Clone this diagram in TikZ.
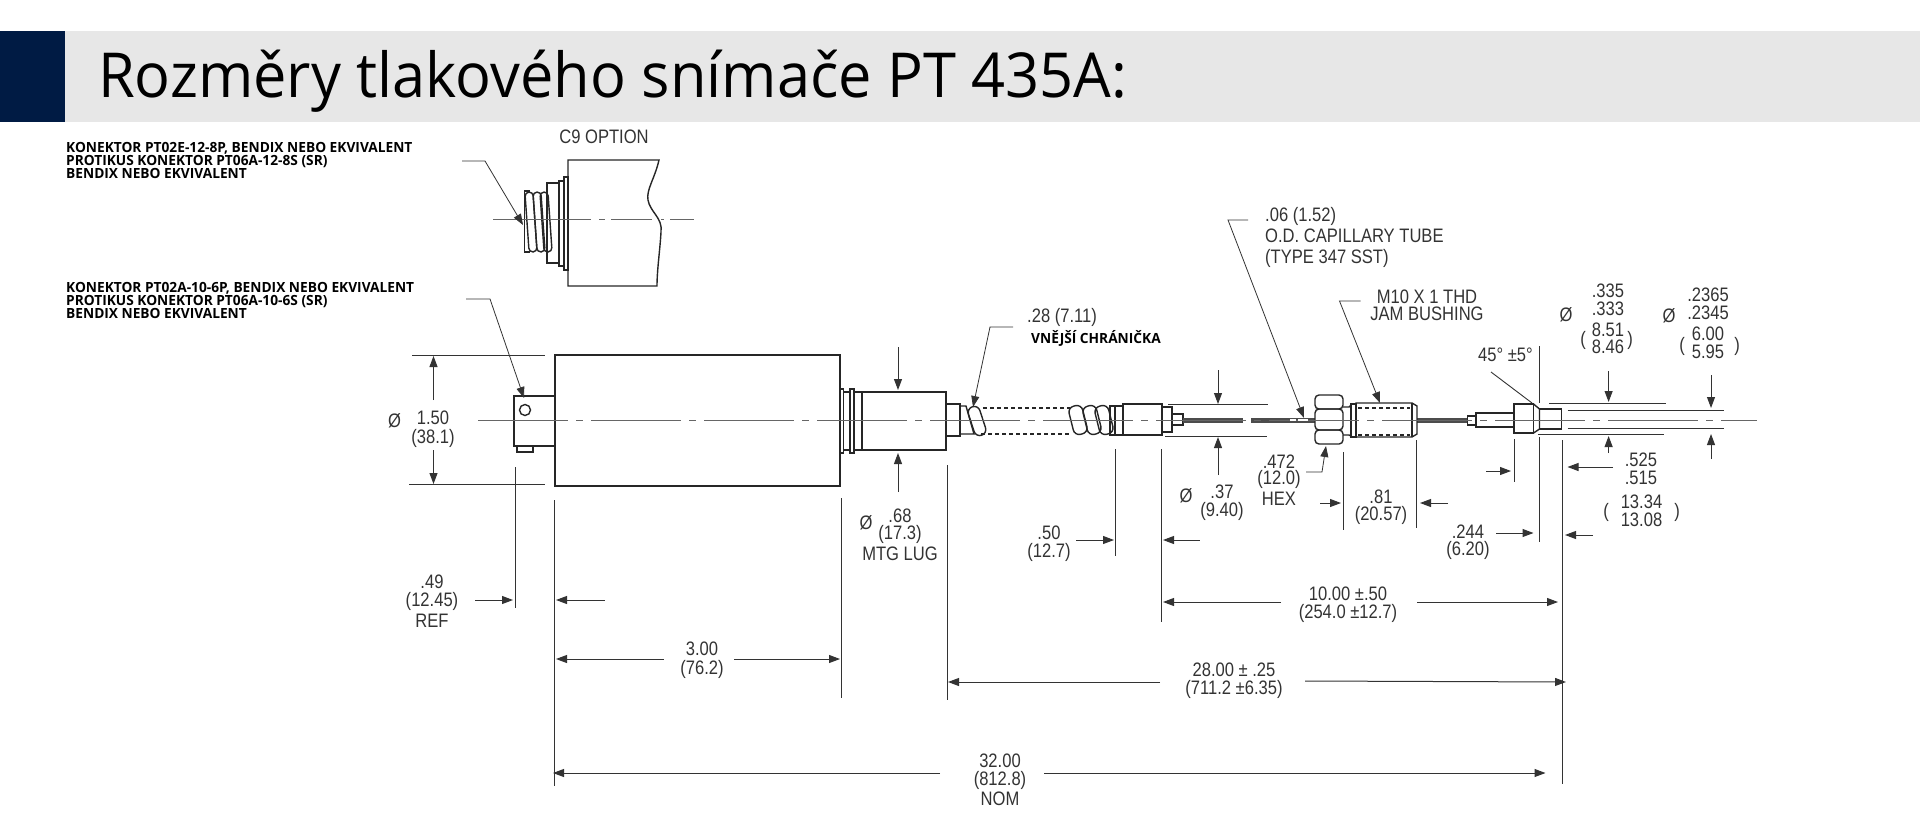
\documentclass[tikz,border=0pt]{standalone}
\usepackage{fontspec}
\usetikzlibrary{arrows.meta}
\setmainfont{Open Sans}
\newfontfamily\titlefont[FakeStretch=0.96]{Open Sans}
\newfontfamily\labelfont[FakeStretch=0.98]{Open Sans}
\newfontfamily\dimfont[FakeStretch=0.85]{Liberation Sans}
\definecolor{navyblock}{HTML}{001B44}
\definecolor{bandgray}{HTML}{E7E7E7}
\definecolor{dimgray}{HTML}{333333}
\definecolor{axisgray}{HTML}{666666}
\tikzset{
	dimtext/.style={inner sep=0pt,text=dimgray,text height=12pt,text depth=0pt,font=\dimfont\fontsize{19.5}{19.5}\selectfont},
	boldtext/.style={inner sep=0pt,anchor=base west,font=\labelfont\bfseries\fontsize{14}{14}\selectfont},
	part/.style={draw=black!85,line width=1.4pt},
	extline/.style={draw=dimgray,line width=0.9pt},
	dimarrow/.style={draw=dimgray,line width=1pt,-{Triangle[length=11pt,width=8pt]}},
	leaderline/.style={draw=dimgray,line width=0.8pt,-{Triangle[length=11pt,width=8pt]}},
	axisline/.style={draw=axisgray,line width=1pt,dash pattern=on 90pt off 8pt on 7pt off 8pt},
	dotrow/.style={draw=black!85,line width=1.3pt,dash pattern=on 3.5pt off 3.5pt},
	capillary/.style={draw=black!70,line width=5pt},
}
\begin{document}
\begin{tikzpicture}[x=1pt,y=-1pt]
	\useasboundingbox (0,0) rectangle (1920,817);
	\fill[bandgray] (65,31) rectangle (1920,122);
	\fill[navyblock] (0,31) rectangle (65,122);
	\node[inner sep=0pt,anchor=base west,font=\titlefont\fontsize{62}{62}\selectfont] (title) at (98,97) {Rozměry tlakového snímače PT 435A:};
	% left hand labels
	\node[boldtext] (labelAa) at (66,152) {KONEKTOR PT02E-12-8P, BENDIX NEBO EKVIVALENT};
	\node[boldtext] (labelAb) at (66,165) {PROTIKUS KONEKTOR PT06A-12-8S (SR)};
	\node[boldtext] (labelAc) at (66,178) {BENDIX NEBO EKVIVALENT};
	\node[boldtext] (labelBa) at (66,292) {KONEKTOR PT02A-10-6P, BENDIX NEBO EKVIVALENT};
	\node[boldtext] (labelBb) at (66,305) {PROTIKUS KONEKTOR PT06A-10-6S (SR)};
	\node[boldtext] (labelBc) at (66,318) {BENDIX NEBO EKVIVALENT};
	% C9 option
	\node[dimtext] (optlabel) at (604,137) {C9 OPTION};
	\draw[part] (568,160)--(659,160) .. controls (655,178) and (646,190) .. (648,200) .. controls (650,212) and (663,218) .. (661,232) .. controls (660,250) and (657,270) .. (657,286)--(568,286)--cycle;
	\draw[part] (564,177) rectangle (568,270);
	\draw[part] (559,181) rectangle (564,266);
	\draw[part] (547,183) rectangle (559,263);
	\draw[part] (530,191)--(524.5,191)--(524.5,252)--(530,252);
	\foreach \cx in {531,539,546}
		\draw[part,shift={(\cx,222)},rotate=4,rounded corners=4] (-4,-30) rectangle (4,30);
	\draw[axisline,dash pattern=on 98pt off 8pt on 6pt off 6pt on 41pt off 9pt on 3pt off 6pt] (493,219)--(694,219);
	\draw[leaderline] (462,161)--(485,161)--(523,225);
	% sensor body
	\draw[part] (514,396) rectangle (555,446);
	\draw[part] (525,410) circle (5.5);
	\draw[part] (517,446) rectangle (533,452);
	\draw[part] (555,355) rectangle (840,486);
	\draw[part] (840,389) rectangle (843.5,453);
	\draw[part] (843.5,392) rectangle (850,450);
	\draw[part] (850,389) rectangle (854,453);
	\draw[part] (854,392) rectangle (862,450);
	\draw[part] (862,392) rectangle (946,450);
	\draw[part] (946,404) rectangle (960,436);
	% conduit
	\draw[part] (961,406)--(966,406)--(974,434)--(961,434);
	\draw[part,shift={(977,421)},rotate=18,rounded corners=6] (-6,-15) rectangle (6,15);
	\draw[dotrow] (983,408)--(1070,408);
	\draw[dotrow] (981,434)--(1072,434);
	\foreach \cx in {1078,1092,1104}
		\draw[part,shift={(\cx,420)},rotate=14,rounded corners=6] (-7,-14.5) rectangle (7,14.5);
	\draw[part] (1110,406) rectangle (1123,435);
	\draw[part] (1115,406)--(1115,435);
	\draw[part] (1123,404) rectangle (1162,435);
	\draw[part] (1162,407) rectangle (1172,432);
	\draw[part] (1172,414) rectangle (1183,425);
	% capillary tube
	\draw[capillary] (1183,420)--(1243,420);
	\draw[capillary] (1251,420)--(1315,420);
	\draw[capillary] (1417,420)--(1467.5,420);
	% hex nut and bushing
	\draw[part,rounded corners=4] (1315,395) rectangle (1343,409);
	\draw[part,rounded corners=4] (1315,409) rectangle (1343,430);
	\draw[part,rounded corners=4] (1315,430) rectangle (1343,444);
	\draw[part] (1343,407)--(1349,407)--(1351,405)--(1351,436)--(1349,435)--(1343,435);
	\draw[part] (1351,404) rectangle (1356,437);
	\draw[part] (1356,403)--(1412,403)--(1417,406)--(1417,434)--(1412,437)--(1356,437)--cycle;
	\draw[part] (1412,403)--(1412,437);
	\draw[dotrow] (1358,408)--(1410,408);
	\draw[dotrow] (1358,435)--(1410,435);
	% fitting end
	\draw[part] (1467.5,416) rectangle (1476,425);
	\draw[part] (1476,413) rectangle (1514,427);
	\draw[part] (1514,404) rectangle (1533.5,433);
	\draw[part] (1533.5,404)--(1539.5,409)--(1539.5,429)--(1533.5,433);
	\draw[part] (1539.5,409) rectangle (1561.6,429);
	\draw[axisline] (478,420)--(1757,420);
	\draw[white,line width=1.5pt] (1290,420)--(1296,420);
	\draw[white,line width=1.5pt] (1298,420)--(1308,420);
	% 1.50 dia
	\draw[extline] (412,355)--(545,355);
	\draw[extline] (409,484)--(545,484);
	\draw[dimarrow] (433.5,400)--(433.5,356);
	\draw[dimarrow] (433.5,450)--(433.5,484);
	\node[dimtext] (bodysym) at (394.5,421) {Ø};
	\node[dimtext] (bodydiaA) at (433,418) {1.50};
	\node[dimtext] (bodydiaB) at (433,437) {(38.1)};
	\draw[leaderline] (466,299)--(490,299)--(524,398);
	% .49 ref
	\draw[extline] (515,467)--(515,608);
	\draw[extline] (554,500)--(554,786);
	\draw[dimarrow] (475,600)--(513,600);
	\draw[dimarrow] (604.5,600)--(556,600);
	\node[dimtext] (refA) at (432,582) {.49};
	\node[dimtext] (refB) at (432,600) {(12.45)};
	\node[dimtext] (refC) at (432,621) {REF};
	% 3.00
	\draw[extline] (841,498)--(841,698);
	\draw[dimarrow] (663.5,659)--(556,659);
	\draw[dimarrow] (734,659)--(840,659);
	\node[dimtext] (bodylenA) at (702,649) {3.00};
	\node[dimtext] (bodylenB) at (702,668) {(76.2)};
	% mtg lug
	\draw[dimarrow] (898,347)--(898,390);
	\draw[dimarrow] (898,492)--(898,453);
	\node[dimtext] (lugsym) at (866,523) {Ø};
	\node[dimtext] (lugA) at (900,516) {.68};
	\node[dimtext] (lugB) at (900,533) {(17.3)};
	\node[dimtext] (lugC) at (900,554) {MTG LUG};
	% outer sleeve
	\draw[leaderline] (1013,327)--(990,327)--(973,407);
	\node[dimtext,anchor=west] (sleeveA) at (1027,316) {.28 (7.11)};
	\node[inner sep=0pt,anchor=west,text height=10pt,font=\labelfont\bfseries\fontsize{14}{14}\selectfont] (sleeveB) at (1031,340) {VNĚJŠÍ CHRÁNIČKA};
	% .37 dia
	\draw[extline] (1168,404)--(1268,404);
	\draw[extline] (1165,436)--(1267,436);
	\draw[dimarrow] (1218,370)--(1218,404);
	\draw[dimarrow] (1218,475)--(1218,437);
	\node[dimtext] (ferrsym) at (1186,496) {Ø};
	\node[dimtext] (ferrA) at (1222,492) {.37};
	\node[dimtext] (ferrB) at (1222,510) {(9.40)};
	% .50
	\draw[extline] (1115,449)--(1115,556);
	\draw[extline] (1161,449)--(1161,622);
	\draw[dimarrow] (1076,540)--(1114,540);
	\draw[dimarrow] (1199.5,540)--(1163,540);
	\node[dimtext] (ferrlenA) at (1049,533) {.50};
	\node[dimtext] (ferrlenB) at (1049,551) {(12.7)};
	% capillary note
	\node[dimtext,anchor=west] (tubeA) at (1265,215) {.06 (1.52)};
	\node[dimtext,anchor=west] (tubeB) at (1265,236) {O.D. CAPILLARY TUBE};
	\node[dimtext,anchor=west] (tubeC) at (1265,257) {(TYPE 347 SST)};
	\draw[leaderline] (1248,220)--(1228,220)--(1304,418);
	% hex
	\draw[leaderline] (1306,472)--(1322,472)--(1326,446);
	\node[dimtext] (hexA) at (1279,462) {.472};
	\node[dimtext] (hexB) at (1279,478) {(12.0)};
	\node[dimtext] (hexC) at (1279,499) {HEX};
	% jam bushing
	\node[dimtext] (jamA) at (1427,297) {M10 X 1 THD};
	\node[dimtext] (jamB) at (1427,314) {JAM BUSHING};
	\draw[leaderline] (1360.5,301)--(1339.5,301)--(1380,403);
	% .81
	\draw[extline] (1343,452)--(1343,530);
	\draw[extline] (1416,440)--(1416,528);
	\draw[dimarrow] (1320,503)--(1341,503);
	\draw[dimarrow] (1448,503)--(1420,503);
	\node[dimtext] (bushA) at (1381,497) {.81};
	\node[dimtext] (bushB) at (1381,514) {(20.57)};
	% .244
	\draw[extline] (1539,346)--(1539,403);
	\draw[extline] (1539,437)--(1539,542);
	\draw[extline] (1562,440)--(1562,784);
	\draw[dimarrow] (1496,533)--(1533.5,533);
	\draw[dimarrow] (1593,535)--(1565,535);
	\node[dimtext] (tipA) at (1468,532) {.244};
	\node[dimtext] (tipB) at (1468,549) {(6.20)};
	% 45 deg
	\draw[extline] (1491,372)--(1532,403);
	\node[dimtext] (angle) at (1505.5,355) {45\textdegree{} ±5\textdegree};
	% .525
	\draw[extline] (1514,439)--(1514,482);
	\draw[dimarrow] (1486,471)--(1511,471);
	\draw[dimarrow] (1613,467)--(1567.5,467);
	\node[dimtext] (shankA) at (1641,460) {.525};
	\node[dimtext] (shankB) at (1641,478) {.515};
	\node[dimtext] (shankC) at (1641.5,502) {13.34};
	\node[dimtext] (shankD) at (1641.5,520) {13.08};
	\node[dimtext] (shankL) at (1606,511) {(};
	\node[dimtext] (shankR) at (1677,511) {)};
	% .335 dia
	\draw[extline] (1549,403)--(1666,403);
	\draw[extline] (1538,434)--(1664,434);
	\draw[dimarrow] (1608.6,371)--(1608.6,402);
	\draw[dimarrow] (1608.6,453)--(1608.6,436);
	\node[dimtext] (collarsym) at (1566,315) {Ø};
	\node[dimtext] (collarA) at (1608,291) {.335};
	\node[dimtext] (collarB) at (1608,309) {.333};
	\node[dimtext] (collarC) at (1608,330) {8.51};
	\node[dimtext] (collarD) at (1608,347) {8.46};
	\node[dimtext] (collarL) at (1583,339) {(};
	\node[dimtext] (collarR) at (1630,339) {)};
	% .2365 dia
	\draw[extline] (1567.5,410)--(1724,410);
	\draw[extline] (1567.5,428)--(1724,428);
	\draw[dimarrow] (1711,375)--(1711,408);
	\draw[dimarrow] (1711,459)--(1711,434);
	\node[dimtext] (endsym) at (1669,316) {Ø};
	\node[dimtext] (endA) at (1708,295) {.2365};
	\node[dimtext] (endB) at (1708,313) {.2345};
	\node[dimtext] (endC) at (1708,334) {6.00};
	\node[dimtext] (endD) at (1708,352) {5.95};
	\node[dimtext] (endL) at (1682,345) {(};
	\node[dimtext] (endR) at (1737,345) {)};
	% 10.00
	\draw[dimarrow] (1281,602)--(1163,602);
	\draw[dimarrow] (1417,602)--(1558,602);
	\node[dimtext] (tubelenA) at (1348,594) {10.00 ±.50};
	\node[dimtext] (tubelenB) at (1348,612) {(254.0 ±12.7)};
	% 28.00
	\draw[extline] (947,465)--(947,700);
	\draw[dimarrow] (1160,682)--(948,682);
	\draw[dimarrow] (1305,681)--(1566,682);
	\node[dimtext] (longA) at (1234,670) {28.00 ± .25};
	\node[dimtext] (longB) at (1234,688) {(711.2 ±6.35)};
	% 32.00
	\draw[dimarrow] (940,773)--(553,773);
	\draw[dimarrow] (1044,773)--(1545.5,773);
	\node[dimtext] (totalA) at (1000,761) {32.00};
	\node[dimtext] (totalB) at (1000,779) {(812.8)};
	\node[dimtext] (totalC) at (1000,799) {NOM};
\end{tikzpicture}
\end{document}
